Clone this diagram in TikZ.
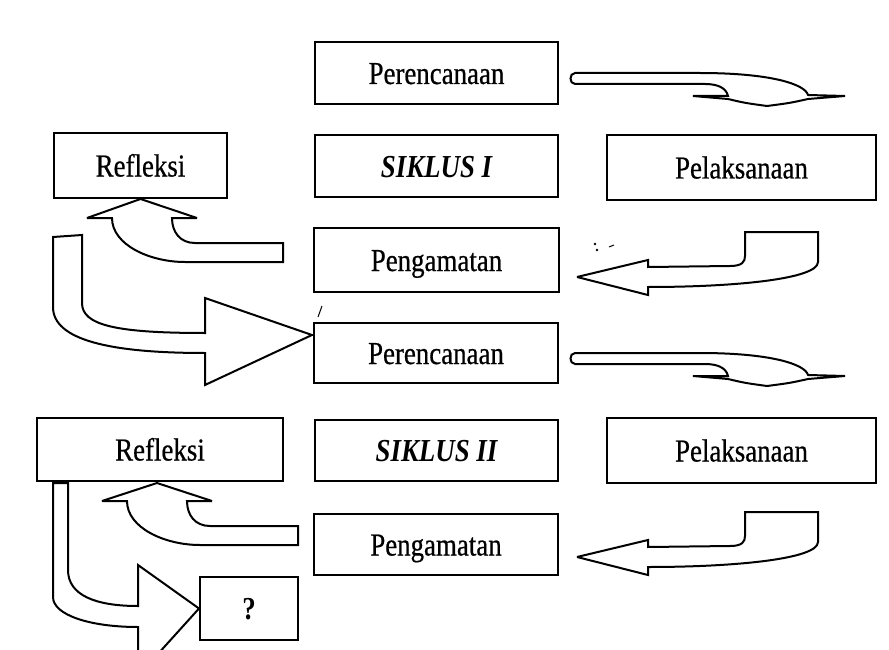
\documentclass[tikz,border=0pt]{standalone}
\usepackage{fontspec}
\setmainfont{Liberation Serif}[FakeStretch=0.84, UprightFeatures={FakeBold=0.6}]

\begin{document}
\begin{tikzpicture}[
    x=1pt, y=-1pt,
    box/.style={draw, line width=2pt, inner sep=0pt, text height=22pt, text depth=0pt,
                font=\fontsize{32}{36}\selectfont},
    siklus/.style={box, font=\fontsize{32}{36}\selectfont\bfseries\itshape},
    blok/.style={draw, line width=2pt, fill=white, line join=miter, miter limit=4}
]
    \useasboundingbox (0,0) rectangle (889,650);

    % --- SIKLUS I ---
    \node[box, minimum width=243pt, minimum height=62pt] (rencana1) at (436.5,73) {Perencanaan};
    \node[siklus, minimum width=243pt, minimum height=62pt] (siklus1) at (436.5,166) {SIKLUS I};
    \node[box, minimum width=173pt, minimum height=65pt] (refleksi1) at (140.5,165.5) {Refleksi};
    \node[box, minimum width=269pt, minimum height=65pt] (laksana1) at (741.5,167.5) {Pelaksanaan};
    \node[box, minimum width=245pt, minimum height=64pt] (amat1) at (436.5,260) {Pengamatan};

    % --- SIKLUS II ---
    \node[box, minimum width=244pt, minimum height=60pt] (rencana2) at (436,353) {Perencanaan};
    \node[siklus, minimum width=243pt, minimum height=61pt] (siklus2) at (436.5,450.5) {SIKLUS II};
    \node[box, minimum width=246pt, minimum height=63pt] (refleksi2) at (160,449.5) {Refleksi};
    \node[box, minimum width=269pt, minimum height=65pt] (laksana2) at (741.5,450.5) {Pelaksanaan};
    \node[box, minimum width=244pt, minimum height=61pt] (amat2) at (436,544.5) {Pengamatan};
    \node[box, minimum width=98pt, minimum height=63pt] (tanya) at (249,608.5) {\bfseries ?};

    % Perencanaan -> Pelaksanaan (flat bent arrows)
    \foreach \dy in {0,280} {
        \begin{scope}[shift={(0,\dy)}]
            \draw[blok] (575,73) -- (700,73) .. controls (770,73) and (805,84) .. (808,95)
                -- (845,96) -- (808,99) .. controls (790,103) .. (767,106)
                .. controls (745,103) .. (728,99) -- (693,96) -- (728,96)
                .. controls (726,87) and (716,84) .. (705,84) -- (575,84)
                .. controls (569,84) and (569,73) .. (575,73) -- cycle;
        \end{scope}
    }

    % Pelaksanaan -> Pengamatan
    \foreach \dy in {0,280} {
        \begin{scope}[shift={(0,\dy)}]
            \draw[blok] (745,232) -- (818,232) -- (818,262)
                .. controls (818,279) and (735,287) .. (648,287)
                -- (648,295) -- (577,277) -- (648,260) -- (648,267) -- (730,266)
                .. controls (742,266) and (745,262) .. (745,256) -- cycle;
        \end{scope}
    }

    % Pengamatan -> Refleksi
    \draw[blok] (283,243) -- (195,243) .. controls (180,243) and (172,232) .. (172,218)
        -- (197,218) -- (refleksi1.south) -- (87,218) -- (112,218)
        .. controls (112,245) and (150,262) .. (185,262) -- (283,262) -- cycle;
    \begin{scope}[shift={(15,283)}]
        \draw[blok] (283,243) -- (195,243) .. controls (180,243) and (172,232) .. (172,218)
            -- (197,218) -- (142,200) -- (87,218) -- (112,218)
            .. controls (112,245) and (150,262) .. (185,262) -- (283,262) -- cycle;
    \end{scope}

    % Refleksi -> Perencanaan / ?
    \draw[blok] (53,237) -- (53,307) .. controls (53,340) and (110,353) .. (205,353)
        -- (205,385) -- (312,335) -- (205,298) -- (205,333)
        .. controls (115,333) and (82,325) .. (82,303) -- (82,235) -- cycle;
    \draw[blok] (53,483) -- (53,597) .. controls (53,615) and (90,627) .. (138,627)
        -- (138,676) -- (tanya.west) -- (138,565) -- (138,606)
        .. controls (95,606) and (68,595) .. (68,570) -- (68,483) -- cycle;

    % scan marks
    \draw[line width=1pt] (318,317) -- (322,306);
    \fill (595,244) circle (1.3pt) (597,250) circle (1.3pt);
    \draw[line width=1pt] (609,247) -- (614,245);

\end{tikzpicture}
\end{document}
